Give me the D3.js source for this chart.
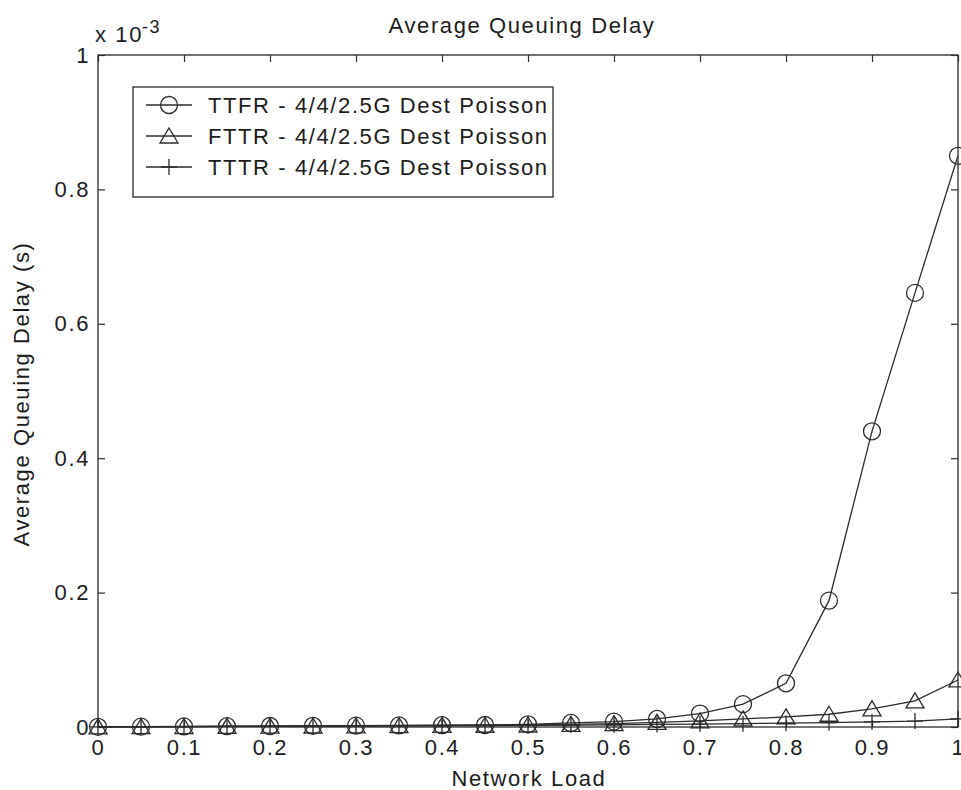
<!DOCTYPE html>
<html>
<head>
<meta charset="utf-8">
<script src="https://cdn.jsdelivr.net/npm/d3@7"></script>
<style>
  html, body { margin: 0; padding: 0; background: #fff; }
  svg { display: block; font-family: "Liberation Sans", Arial, sans-serif; }
  svg text { letter-spacing: 1.6px; }
</style>
</head>
<body>
<svg id="chart" width="961" height="790"></svg>
<script>
// Network load (x) and average queuing delay in units of 1e-3 s
const load = [0, 0.05, 0.1, 0.15, 0.2, 0.25, 0.3, 0.35, 0.4, 0.45, 0.5,
              0.55, 0.6, 0.65, 0.7, 0.75, 0.8, 0.85, 0.9, 0.95, 1.0];
const ttfr = [0.0003, 0.0005, 0.0008, 0.0012, 0.0015, 0.0018, 0.002, 0.0023, 0.0027, 0.003, 0.004,
              0.006, 0.008, 0.012, 0.02, 0.034, 0.065, 0.188, 0.44, 0.646, 0.85];
const fttr = [0.0003, 0.0005, 0.0007, 0.001, 0.0013, 0.0015, 0.0018, 0.002, 0.0023, 0.0026, 0.003,
              0.004, 0.005, 0.007, 0.009, 0.012, 0.015, 0.019, 0.027, 0.039, 0.07];
const tttr = [0.0002, 0.0004, 0.0006, 0.0008, 0.001, 0.0012, 0.0014, 0.0016, 0.0018, 0.002, 0.0024,
              0.0028, 0.0033, 0.0038, 0.0043, 0.005, 0.0057, 0.0065, 0.0075, 0.0088, 0.012];

const seriesNames = ["TTFR - 4/4/2.5G Dest Poisson",
                     "FTTR - 4/4/2.5G Dest Poisson",
                     "TTTR - 4/4/2.5G Dest Poisson"];
const seriesMarkers = ["circle", "triangle", "plus"];

const xTicks = [0, 0.1, 0.2, 0.3, 0.4, 0.5, 0.6, 0.7, 0.8, 0.9, 1];
const xTickLabels = ["0", "0.1", "0.2", "0.3", "0.4", "0.5", "0.6", "0.7", "0.8", "0.9", "1"];
const yTicks = [0, 0.2, 0.4, 0.6, 0.8, 1];
const yTickLabels = ["0", "0.2", "0.4", "0.6", "0.8", "1"];

const titleText = "Average Queuing Delay";
const xTitle = "Network Load";
const yTitle = "Average Queuing Delay (s)";

const series = [ttfr, fttr, tttr].map((vals, i) => ({
  name: seriesNames[i],
  marker: seriesMarkers[i],
  points: load.map((x, j) => ({ x, y: vals[j] }))
}));

const svg = d3.select("#chart");
const ink = "#2b2b2b";
const txt = "#1c1c1c";
const fs = "22px";
const plotL = 98, plotR = 958, plotT = 55, plotB = 727;

const x = d3.scaleLinear().domain([0, 1]).range([plotL, plotR]);
const y = d3.scaleLinear().domain([0, 1]).range([plotB, plotT]);

// marker shapes
function drawMarker(g, type, cx, cy) {
  if (type === "circle") {
    g.append("circle").attr("cx", cx).attr("cy", cy).attr("r", 8.5)
      .attr("fill", "none").attr("stroke", ink).attr("stroke-width", 1.3);
  } else if (type === "triangle") {
    g.append("path")
      .attr("d", `M${cx},${cy - 8}L${cx + 9},${cy + 7}L${cx - 9},${cy + 7}Z`)
      .attr("fill", "none").attr("stroke", ink).attr("stroke-width", 1.3);
  } else {
    g.append("path")
      .attr("d", `M${cx - 8},${cy}H${cx + 8}M${cx},${cy - 8}V${cy + 8}`)
      .attr("fill", "none").attr("stroke", ink).attr("stroke-width", 1.3);
  }
}

// frame
svg.append("rect")
  .attr("x", plotL).attr("y", plotT)
  .attr("width", plotR - plotL).attr("height", plotB - plotT)
  .attr("fill", "none").attr("stroke", ink).attr("stroke-width", 1.3);

// axes with inward ticks (bottom/left labelled, top/right plain)
const axisStyle = g => {
  g.select(".domain").remove();
  g.selectAll(".tick line").attr("stroke", ink).attr("stroke-width", 1.2);
  g.selectAll(".tick text").attr("fill", txt)
    .style("font-size", fs).style("font-family", "'Liberation Sans', Arial, sans-serif");
};

svg.append("g").attr("transform", `translate(0,${plotB})`)
  .call(d3.axisBottom(x).tickValues(xTicks).tickSize(-7).tickPadding(12)
    .tickFormat((d, i) => xTickLabels[i]))
  .call(axisStyle);
svg.append("g").attr("transform", `translate(0,${plotT})`)
  .call(d3.axisTop(x).tickValues(xTicks).tickSize(-7).tickFormat(""))
  .call(axisStyle);
svg.append("g").attr("transform", `translate(${plotL},0)`)
  .call(d3.axisLeft(y).tickValues(yTicks).tickSize(-7).tickPadding(8)
    .tickFormat((d, i) => yTickLabels[i]))
  .call(axisStyle);
svg.append("g").attr("transform", `translate(${plotR},0)`)
  .call(d3.axisRight(y).tickValues(yTicks).tickSize(-7).tickFormat(""))
  .call(axisStyle);

// exponent label
const expo = svg.append("text").attr("x", 95).attr("y", 42)
  .attr("fill", txt).style("font-size", fs);
expo.append("tspan").text("x 10");
expo.append("tspan").attr("dx", -1).attr("dy", -9).style("font-size", "18px").text("-3");

// titles
svg.append("text").attr("x", 522).attr("y", 33).attr("text-anchor", "middle")
  .attr("fill", txt).style("font-size", fs).text(titleText);
svg.append("text").attr("x", 529).attr("y", 786).attr("text-anchor", "middle")
  .attr("fill", txt).style("font-size", fs).text(xTitle);
svg.append("text").attr("transform", "translate(29,394) rotate(-90)")
  .attr("text-anchor", "middle").attr("fill", txt)
  .style("font-size", fs).text(yTitle);

// series lines and markers
const line = d3.line().x(d => x(d.x)).y(d => y(d.y));
const plot = svg.append("g");
series.slice().reverse().forEach(s => {
  plot.append("path").datum(s.points).attr("d", line)
    .attr("fill", "none").attr("stroke", ink).attr("stroke-width", 1.3);
});
series.forEach(s => {
  const mg = plot.append("g");
  s.points.forEach(p => drawMarker(mg, s.marker, x(p.x), y(p.y)));
});

// legend
const lg = svg.append("g");
lg.append("rect").attr("x", 133).attr("y", 87).attr("width", 420).attr("height", 110)
  .attr("fill", "#fff").attr("stroke", ink).attr("stroke-width", 1.3);
series.forEach((s, i) => {
  const cy = 105 + i * 31;
  lg.append("line").attr("x1", 146).attr("x2", 192).attr("y1", cy).attr("y2", cy)
    .attr("stroke", ink).attr("stroke-width", 1.3);
  drawMarker(lg, s.marker, 169, cy);
  lg.append("text").attr("x", 208).attr("y", cy + 8).attr("fill", txt)
    .style("font-size", fs).text(s.name);
});
</script>
</body>
</html>
